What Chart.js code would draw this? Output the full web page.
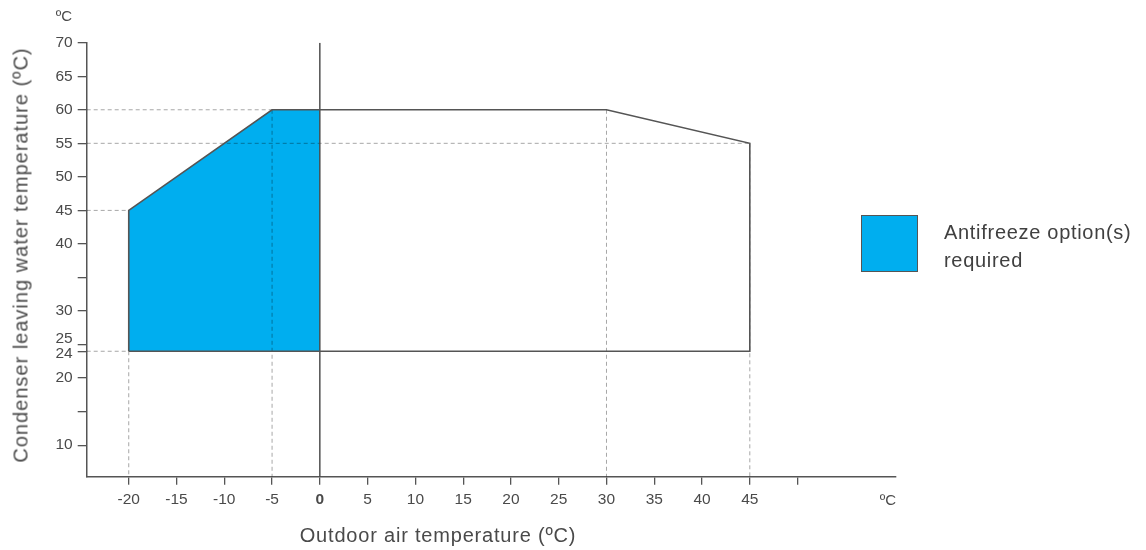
<!DOCTYPE html>
<html>
<head>
<meta charset="utf-8">
<script src="https://cdn.jsdelivr.net/npm/chart.js@4.4.0/dist/chart.umd.min.js"></script>
<style>
    html, body { margin: 0; padding: 0; background: #fff; }
    #wrap { position: relative; width: 1146px; height: 550px; font-family: "Liberation Sans", Arial, sans-serif; color: #4a4a4a; }
    #chart { position: absolute; left: 0; top: 0; }
    .lbl { position: absolute; white-space: nowrap; }
    #ytitle { left: 21px; top: 255px; font-size: 20px; letter-spacing: 1px; transform: translate(-50%, -50%) rotate(-90deg); }
    #xtitle { left: 438px; top: 535px; font-size: 20px; letter-spacing: 0.8px; transform: translate(-50%, -50%); }
    .unit { font-size: 15px; transform: translate(-50%, -50%); }
    #legend-box { position: absolute; left: 861px; top: 215px; width: 55px; height: 55px; background: #00aeef; border: 1px solid #555; }
    #legend-text { left: 944px; top: 218px; font-size: 20px; letter-spacing: 0.7px; line-height: 28px; color: #404040; }
</style>
</head>
<body>
<div id="wrap">
    <canvas id="chart" width="1146" height="550"></canvas>
    <div class="lbl" id="ytitle">Condenser leaving water temperature (ºC)</div>
    <div class="lbl" id="xtitle">Outdoor air temperature (ºC)</div>
    <div class="lbl unit" style="left:64px;top:15px;">ºC</div>
    <div class="lbl unit" style="left:888px;top:499px;">ºC</div>
    <div id="legend-box"></div>
    <div class="lbl" id="legend-text">Antifreeze option(s)<br>required</div>
</div>
<script>
// Axis ranges
const X_MIN = -24.4, X_MAX = 60.3;
const Y_MIN = 5.3, Y_MAX = 70;

// Tick values and labels
const xTicks = [-20, -15, -10, -5, 0, 5, 10, 15, 20, 25, 30, 35, 40, 45, 50];
const xTickLabels = ['-20', '-15', '-10', '-5', '0', '5', '10', '15', '20', '25', '30', '35', '40', '45', ''];
const yTicks = [10, 15, 20, 24, 25, 30, 35, 40, 45, 50, 55, 60, 65, 70];
const yTickLabels = ['10', '', '20', '24', '25', '30', '', '40', '45', '50', '55', '60', '65', '70'];

// Operating envelope outline (closed)
const envelopeX = [-20, -20, -5, 30, 45, 45, -20];
const envelopeY = [24, 45, 60, 60, 55, 24, 24];

// Antifreeze zone: top edge, filled down to the base
const antifreezeX = [-20, -5, 0];
const antifreezeY = [45, 60, 60];
const antifreezeBase = 24;

// Dashed guides
const hGuideY = [60, 55, 45, 24];
const hGuideEnd = [-5, 45, -20, -20];
const vGuideX = [-20, -5, 30, 45];
const vGuideTop = [24, 60, 60, 55];

const FONT = '"Liberation Sans", Arial, sans-serif';
const TEXT = '#4a4a4a';
const AXIS = '#555';

function pts(xs, ys) {
    return xs.map((x, i) => ({ x: x, y: ys[i] }));
}

const lineBase = { showLine: true, pointRadius: 0, fill: false, tension: 0 };

const datasets = [];
// outline on top
datasets.push(Object.assign({}, lineBase, {
    data: pts(envelopeX, envelopeY),
    borderColor: '#555', borderWidth: 1.6
}));
// zero line
datasets.push(Object.assign({}, lineBase, {
    data: [{ x: 0, y: Y_MIN }, { x: 0, y: Y_MAX }],
    borderColor: '#444', borderWidth: 1.4
}));
// dashed guides
hGuideY.forEach((y, i) => {
    datasets.push(Object.assign({}, lineBase, {
        data: [{ x: X_MIN, y: y }, { x: hGuideEnd[i], y: y }],
        borderColor: 'rgba(0,0,0,0.35)', borderWidth: 1, borderDash: [4, 3]
    }));
});
vGuideX.forEach((x, i) => {
    datasets.push(Object.assign({}, lineBase, {
        data: [{ x: x, y: vGuideTop[i] }, { x: x, y: Y_MIN }],
        borderColor: 'rgba(0,0,0,0.35)', borderWidth: 1, borderDash: [4, 3]
    }));
});
// blue fill at the bottom
datasets.push(Object.assign({}, lineBase, {
    data: pts(antifreezeX, antifreezeY),
    borderWidth: 0, borderColor: 'rgba(0,0,0,0)',
    backgroundColor: '#00aeef',
    fill: { value: antifreezeBase }
}));

new Chart(document.getElementById('chart').getContext('2d'), {
    type: 'scatter',
    data: { datasets: datasets },
    options: {
        responsive: false,
        animation: false,
        layout: { padding: { left: 0, top: 42.7, right: 250, bottom: 0 } },
        plugins: { legend: { display: false }, tooltip: { enabled: false } },
        scales: {
            x: {
                type: 'linear', min: X_MIN, max: X_MAX,
                afterFit: s => { s.height = 73.3; },
                afterBuildTicks: s => { s.ticks = xTicks.map(v => ({ value: v })); },
                grid: { drawOnChartArea: false, drawTicks: true, tickLength: 8, color: AXIS, lineWidth: 1.3 },
                border: { color: AXIS, width: 1.5 },
                ticks: {
                    autoSkip: false, maxRotation: 0, padding: 6, color: TEXT,
                    font: ctx => ({ family: FONT, size: 15.5, weight: (ctx.tick && ctx.tick.value === 0) ? 'bold' : 'normal' }),
                    callback: (v, i) => xTickLabels[i]
                }
            },
            y: {
                type: 'linear', min: Y_MIN, max: Y_MAX,
                afterFit: s => { s.width = 86.7; },
                afterBuildTicks: s => { s.ticks = yTicks.map(v => ({ value: v })); },
                grid: { drawOnChartArea: false, drawTicks: true, tickLength: 9, color: AXIS, lineWidth: 1.3 },
                border: { color: AXIS, width: 1.5 },
                ticks: {
                    autoSkip: false, padding: 5, color: TEXT,
                    font: ctx => {
                        let lh = 1.2;
                        if (ctx.tick && ctx.tick.value === 25) lh = 0.72;
                        if (ctx.tick && ctx.tick.value === 24) lh = 0.3;
                        return { family: FONT, size: 15.5, lineHeight: lh };
                    },
                    callback: (v, i) => {
                        const t = yTickLabels[i];
                        if (t === '25') return ['25', ''];
                        if (t === '24') return ['', '24'];
                        return t;
                    }
                }
            }
        }
    }
});
</script>
</body>
</html>
